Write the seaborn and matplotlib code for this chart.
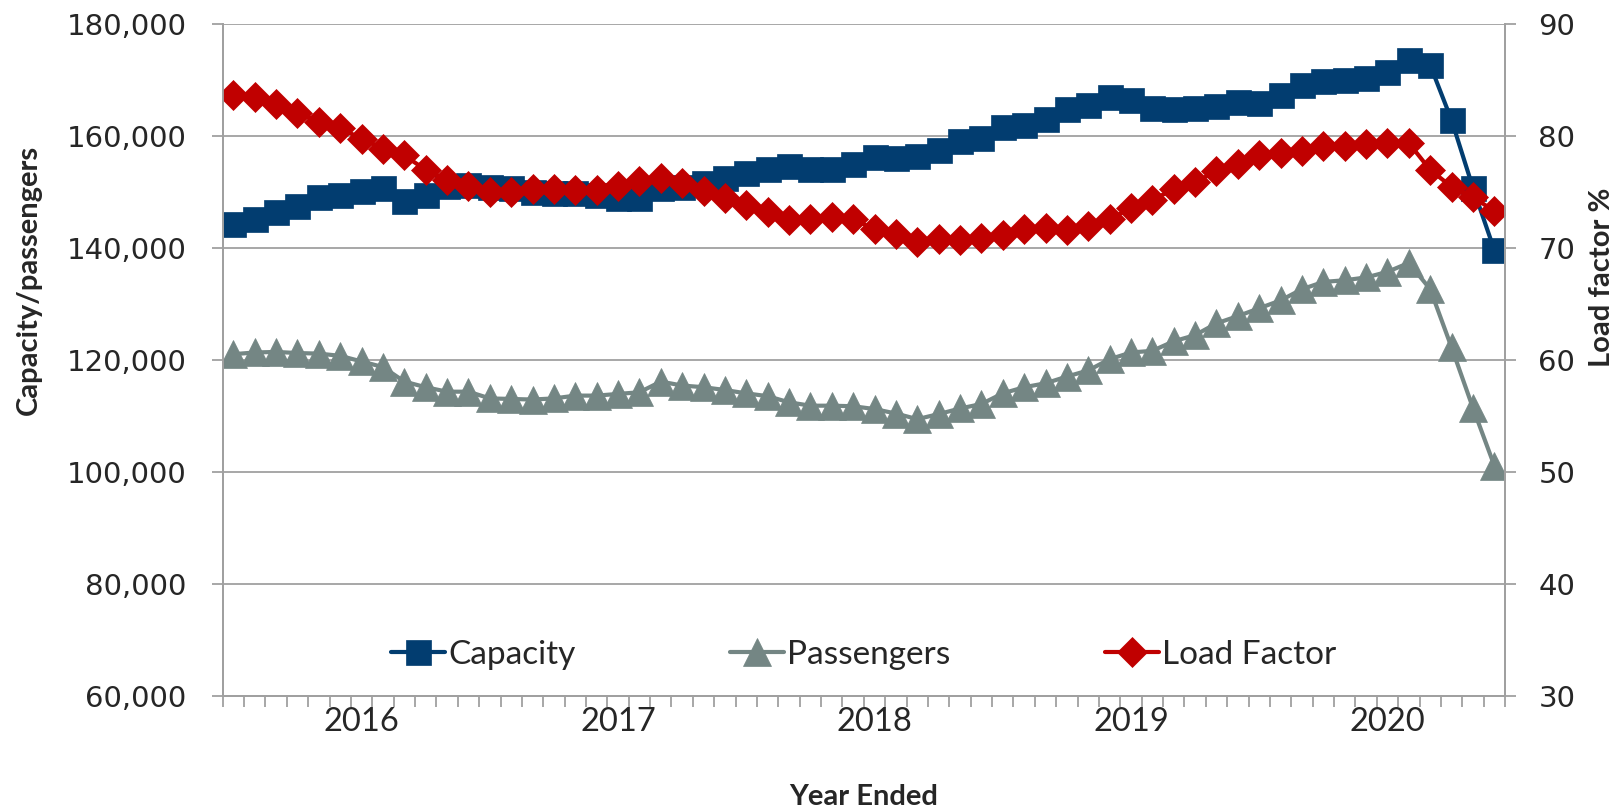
import matplotlib
matplotlib.use('Agg')
import matplotlib.pyplot as plt
import seaborn as sns
import pandas as pd
import numpy as np
from matplotlib.ticker import FuncFormatter

# year ended, monthly, Jul 2015 .. Jun 2020
months = pd.date_range('2015-07-01', periods=60, freq='MS')

capacity = [144400, 145300, 146500, 147600, 149100, 149500, 150200, 150700, 148400, 149500,
            151100, 151300, 151000, 150700, 150100, 149900, 149800, 149600, 148900, 148900,
            150700, 151000, 151600, 152600, 153400, 154200, 154700, 154100, 154200, 155100,
            156300, 156100, 156400, 157500, 159100, 159700, 161700, 162100, 163100, 164800,
            165600, 167000, 166400, 165100, 164900, 165100, 165500, 166100, 165900, 167300,
            169100, 169900, 170100, 170400, 171400, 173700, 172700, 162900, 150800, 139700]

passengers = [121100, 121400, 121500, 121300, 121200, 120800, 119800, 118800, 116200, 115200,
              114400, 114400, 113200, 113100, 113000, 113200, 113700, 113700, 114000, 114300,
              116200, 115500, 115200, 114700, 114100, 113600, 112500, 111900, 111900, 111800,
              111300, 110500, 109500, 110400, 111400, 112200, 114100, 115200, 115900, 117100,
              118200, 120200, 121400, 121700, 123400, 124500, 126600, 127900, 129300, 130700,
              132700, 134000, 134300, 134800, 135800, 137400, 132700, 122300, 111500, 101200]

load_factor = [83.7, 83.5, 82.9, 82.1, 81.3, 80.7, 79.8, 78.9, 78.3, 77.0,
               76.1, 75.6, 75.0, 75.0, 75.3, 75.3, 75.2, 75.2, 75.6, 76.0,
               76.3, 75.8, 75.1, 74.5, 73.9, 73.2, 72.5, 72.6, 72.8, 72.6,
               71.7, 71.3, 70.6, 70.8, 70.7, 70.9, 71.2, 71.7, 71.8, 71.6,
               72.0, 72.6, 73.6, 74.3, 75.3, 75.9, 76.9, 77.5, 78.3, 78.5,
               78.7, 79.1, 79.1, 79.3, 79.4, 79.4, 77.0, 75.5, 74.6, 73.3]

df = pd.DataFrame({'m': np.arange(len(months)), 'capacity': capacity,
                   'passengers': passengers, 'load_factor': load_factor})

BLUE = '#023d70'
GRAY = '#748684'
RED = '#c00000'
AXIS = '#a0a0a0'
TXT = 'Lato'

sns.set_style('white')
plt.rcParams['font.family'] = ['DejaVu Sans']

fig, ax = plt.subplots(figsize=(16.23, 8.11), dpi=100)
fig.subplots_adjust(left=0.1372, right=0.9273, top=0.970, bottom=0.1414)
ax2 = ax.twinx()

sns.lineplot(data=df, x='m', y='capacity', ax=ax, color=BLUE, linewidth=3,
             marker='s', markersize=18, markeredgecolor=BLUE, markeredgewidth=0.5,
             label='Capacity', legend=False)
sns.lineplot(data=df, x='m', y='passengers', ax=ax, color=GRAY, linewidth=3,
             marker='^', markersize=20.5, markeredgecolor=GRAY, markeredgewidth=0.5,
             label='Passengers', legend=False)
sns.lineplot(data=df, x='m', y='load_factor', ax=ax2, color=RED, linewidth=3,
             marker='D', markersize=15.5, markeredgecolor=RED, markeredgewidth=0.5,
             label='Load Factor', legend=False)

ax.set_xlim(-0.5, len(months) - 0.5)
ax.set_ylim(60000, 180000)
ax2.set_ylim(30, 90)
ax.set_yticks(range(60000, 180001, 20000))
ax2.set_yticks(range(30, 91, 10))
ax.yaxis.set_major_formatter(FuncFormatter(lambda v, p: f'{v:,.0f}'))

# year labels under January, month ticks between categories
jan = [i for i, d in enumerate(months) if d.month == 1]
ax.set_xticks(jan)
ax.set_xticklabels([str(months[i].year) for i in jan], fontfamily=TXT, fontsize=23.5)
ax.set_xticks(np.arange(-0.5, len(months), 1), minor=True)

ax.yaxis.grid(True, color=AXIS, linewidth=1.3)
ax.set_axisbelow(True)

for a in (ax, ax2):
    for s in a.spines.values():
        s.set_color(AXIS)
        s.set_linewidth(1.3)
    a.spines['top'].set_visible(False)

ax.tick_params(axis='y', direction='out', length=8, width=1.3, color=AXIS,
               labelsize=21, pad=18, left=True)
ax2.tick_params(axis='y', direction='out', length=8, width=1.3, color=AXIS,
                labelsize=21, pad=16, right=True)
ax.tick_params(axis='x', which='major', length=0, pad=8, bottom=True)
ax.tick_params(axis='x', which='minor', direction='out', length=8, width=1.3,
               color=AXIS, bottom=True)

ax.set_xlabel('Year Ended', fontfamily=TXT, fontweight='bold', fontsize=21)
ax.xaxis.set_label_coords(0.5, -0.13)
ax.set_ylabel('Capacity/passengers', fontfamily=TXT, fontweight='bold', fontsize=21)
ax.yaxis.set_label_coords(-0.141, 0.62)
ax2.set_ylabel('Load factor %', fontfamily=TXT, fontweight='bold', fontsize=21)
ax2.yaxis.set_label_coords(1.0655, 0.623)

h1, l1 = ax.get_legend_handles_labels()
h2, l2 = ax2.get_legend_handles_labels()
ax2.legend(h1 + h2, l1 + l2, loc='center', bbox_to_anchor=(0.5, 0.062), ncol=3,
           frameon=False, prop={'family': TXT, 'size': 24}, handlelength=1.6,
           handletextpad=0.1, columnspacing=4.65)

fig.savefig('out.png', dpi=100)
